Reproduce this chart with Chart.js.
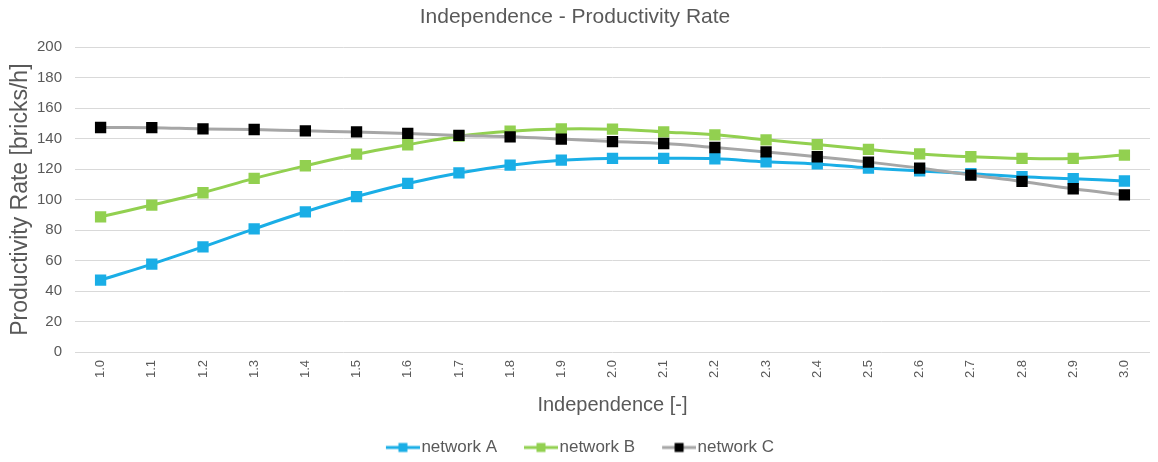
<!DOCTYPE html>
<html>
<head>
<meta charset="utf-8">
<title>Independence - Productivity Rate</title>
<script src="https://cdn.jsdelivr.net/npm/chart.js@4/dist/chart.umd.min.js"></script>
<style>
  html, body { margin: 0; padding: 0; background: #ffffff; }
  #wrap { width: 1158px; height: 462px; position: relative; }
</style>
</head>
<body>
<div id="wrap"><canvas id="chart" width="1158" height="462"></canvas></div>
<script>
// Independence levels (x categories)
const independence = ['1.0','1.1','1.2','1.3','1.4','1.5','1.6','1.7','1.8','1.9','2.0',
                      '2.1','2.2','2.3','2.4','2.5','2.6','2.7','2.8','2.9','3.0'];

// Productivity rate [bricks/h] per network
const networkA = [47.2, 57.7, 69.0, 80.8, 92.0, 102.0, 110.6, 117.5, 122.6, 125.9, 127.1,
                  127.1, 126.8, 124.8, 123.4, 120.7, 118.8, 117.0, 115.0, 113.7, 112.2];
const networkB = [88.7, 96.4, 104.5, 113.9, 122.2, 129.8, 136.0, 141.6, 144.9, 146.4, 146.2,
                  144.4, 142.5, 139.2, 136.1, 132.9, 130.0, 128.1, 127.0, 127.0, 129.2];
const networkC = [147.3, 147.2, 146.4, 146.0, 145.1, 144.4, 143.4, 142.1, 141.2, 139.7, 138.1,
                  136.8, 134.2, 131.3, 128.1, 124.6, 120.7, 116.1, 111.9, 107.1, 103.1];

const seriesNames = ['network A', 'network B', 'network C'];
const yTicks = { min: 0, max: 200, step: 20 };

const FONT = '"Liberation Sans", Arial, Helvetica, sans-serif';
const TEXT = '#595959';
const GRID = '#d9d9d9';

const lineColors   = ['#1aaee6', '#92d050', '#a6a6a6'];
const markerColors = ['#1aaee6', '#92d050', '#000000'];

// Legend swatch: short line with a square marker in the middle
function legendSwatch(lineColor, markColor) {
  const c = document.createElement('canvas');
  c.width = 51; c.height = 12;
  const g = c.getContext('2d');
  g.fillStyle = lineColor;
  g.fillRect(17, 4.5, 34, 3);
  g.fillStyle = markColor;
  g.fillRect(29.5, 1.5, 9, 9);
  return c;
}
const swatches = seriesNames.map((_, i) => legendSwatch(lineColors[i], markerColors[i]));

function makeDataset(label, values, i, order) {
  return {
    label: label,
    data: values,
    borderColor: lineColors[i],
    backgroundColor: markerColors[i],
    borderWidth: 3,
    tension: 0.4,
    pointStyle: 'rect',
    pointRadius: 8,
    pointHoverRadius: 8,
    pointBorderWidth: 0,
    pointBackgroundColor: markerColors[i],
    pointBorderColor: markerColors[i],
    order: order,
    fill: false
  };
}

new Chart(document.getElementById('chart'), {
  type: 'line',
  data: {
    labels: independence,
    datasets: [
      makeDataset(seriesNames[0], networkA, 0, 2),
      makeDataset(seriesNames[1], networkB, 1, 1),
      makeDataset(seriesNames[2], networkC, 2, 0)
    ]
  },
  options: {
    responsive: false,
    animation: false,
    devicePixelRatio: 1,
    layout: { padding: { left: 0, right: 8, top: 0, bottom: -4 } },
    plugins: {
      tooltip: { enabled: false },
      title: {
        display: true,
        text: 'Independence - Productivity Rate',
        color: TEXT,
        font: { family: FONT, size: 21, weight: 'normal' },
        padding: { top: 5, bottom: 17 }
      },
      legend: {
        display: true,
        position: 'bottom',
        labels: {
          usePointStyle: true,
          pointStyleWidth: 37,
          padding: 17,
          color: TEXT,
          font: { family: FONT, size: 17 },
          generateLabels: (chart) => chart.data.datasets.map((ds, i) => ({
            text: ds.label,
            fillStyle: markerColors[i],
            strokeStyle: lineColors[i],
            lineWidth: 0,
            pointStyle: swatches[i],
            fontColor: TEXT,
            hidden: false,
            datasetIndex: i
          }))
        }
      }
    },
    scales: {
      x: {
        type: 'category',
        offset: true,
        grid: { display: false, drawTicks: false },
        border: { display: false },
        ticks: {
          color: TEXT,
          font: { family: FONT, size: 13 },
          minRotation: 90,
          maxRotation: 90,
          autoSkip: false,
          padding: 8
        },
        title: {
          display: true,
          text: 'Independence [-]',
          color: TEXT,
          font: { family: FONT, size: 20 },
          padding: { top: 0, bottom: 5 }
        },
        afterFit: (s) => { s.height = 70; }
      },
      y: {
        min: yTicks.min,
        max: yTicks.max,
        grid: { color: GRID, lineWidth: 1, drawTicks: false },
        border: { display: false },
        ticks: {
          stepSize: yTicks.step,
          color: TEXT,
          font: { family: FONT, size: 15 },
          padding: 13
        },
        title: {
          display: true,
          text: 'Productivity Rate [bricks/h]',
          color: TEXT,
          font: { family: FONT, size: 23 },
          padding: { top: 7, bottom: 0 }
        },
        afterFit: (s) => { s.width = 75; }
      }
    }
  }
});
</script>
</body>
</html>
